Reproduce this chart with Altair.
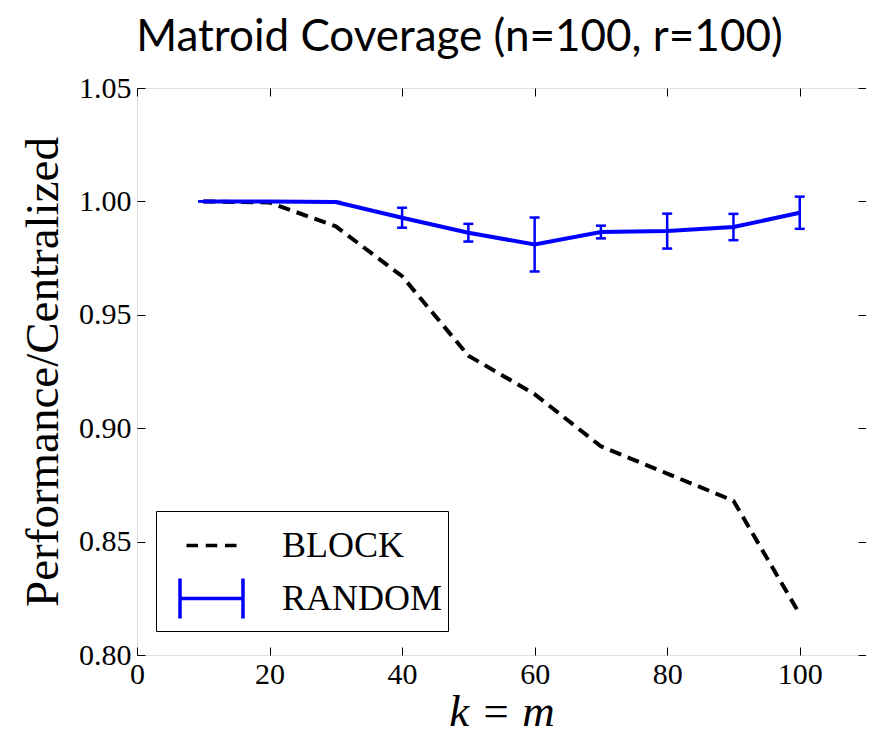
import altair as alt
import pandas as pd

# ---- data ----
k_values = [10, 20, 30, 40, 50, 60, 70, 80, 90, 100]
block_ratio = [1.000, 0.9995, 0.989, 0.967, 0.932, 0.915, 0.892, 0.880, 0.868, 0.818]
random_ratio = [1.000, 1.000, 0.9997, 0.9928, 0.9862, 0.9810, 0.9865, 0.9869, 0.9887, 0.9950]
random_err = [0.0, 0.0, 0.0, 0.0044, 0.0039, 0.0119, 0.0028, 0.0077, 0.0058, 0.0071]
x_ticks = [0, 20, 40, 60, 80, 100]
y_ticks = [0.80, 0.85, 0.90, 0.95, 1.00, 1.05]
series_names = ["Block", "Random"]
series_colors = ["black", "#0000ff"]

df = pd.DataFrame({"k": k_values, "block": block_ratio,
                   "random": random_ratio, "err": random_err})
df["lo"] = df["random"] - df["err"]
df["hi"] = df["random"] + df["err"]
legend_df = pd.DataFrame({"series": series_names})

SERIF = "Liberation Serif"
BLUE = "#0000ff"

xs = alt.Scale(domain=[0, 110], nice=False, zero=False)
ys = alt.Scale(domain=[0.80, 1.05], nice=False, zero=False)


def tick_axis(orient, values):
    return alt.Axis(orient=orient, values=values, labels=False, domain=False,
                    grid=False, ticks=True, tickSize=8, offset=-8,
                    tickColor="black", tickWidth=1, title=None)


main_x = alt.Axis(orient="bottom", values=x_ticks, format="d", grid=False,
                  domain=False, ticks=False, tickSize=0,
                  labelFont=SERIF, labelFontSize=30, labelColor="black",
                  labelPadding=4, labelFlush=False, labelOverlap=False,
                  title="k = m", titleFont=SERIF, titleFontSize=45,
                  titleFontStyle="italic", titleFontWeight="normal",
                  titleColor="black", titleY=70, titleBaseline="alphabetic")

main_y = alt.Axis(orient="left", values=y_ticks, format=".2f", grid=False,
                  domain=False, ticks=False, tickSize=0,
                  labelFont=SERIF, labelFontSize=30, labelColor="black",
                  labelPadding=6, labelOverlap=False, labelFlush=False,
                  title="Performance/Centralized", titleFont=SERIF,
                  titleFontSize=47, titleFontWeight="normal",
                  titleColor="black", titleX=-80, titleBaseline="alphabetic")

block_line = alt.Chart(df).mark_line(
    color="black", strokeWidth=4, strokeDash=[12, 7], strokeCap="butt"
).encode(
    x=alt.X("k:Q", scale=xs, axis=main_x),
    y=alt.Y("block:Q", scale=ys, axis=main_y),
)

random_line = alt.Chart(df).mark_line(color=BLUE, strokeWidth=4).encode(
    x=alt.X("k:Q", scale=xs, axis=tick_axis("bottom", x_ticks)),
    y=alt.Y("random:Q", scale=ys, axis=tick_axis("left", y_ticks)),
)

err_rule = alt.Chart(df).mark_rule(color=BLUE, strokeWidth=2.5).encode(
    x=alt.X("k:Q", scale=xs, axis=tick_axis("top", x_ticks)),
    y=alt.Y("lo:Q", scale=ys, axis=tick_axis("right", y_ticks)),
    y2="hi:Q",
)

caps_lo = alt.Chart(df).mark_tick(
    color=BLUE, orient="horizontal", size=10, thickness=2.5, opacity=1
).encode(
    x=alt.X("k:Q", scale=xs, axis=None),
    y=alt.Y("lo:Q", scale=ys, axis=None),
)

caps_hi = alt.Chart(df).mark_tick(
    color=BLUE, orient="horizontal", size=10, thickness=2.5, opacity=1
).encode(
    x=alt.X("k:Q", scale=xs, axis=None),
    y=alt.Y("hi:Q", scale=ys, axis=None),
)

block_path = "M-0.91,0H-0.49M-0.21,0H0.21M0.49,0H0.91"
random_path = "M-1.145,-0.73V0.73M-1.145,0H1.145M1.145,-0.73V0.73"

leg = alt.Legend(orient="none", legendX=19, legendY=423, title=None,
                 strokeColor="black", fillColor="white",
                 padding=5, rowPadding=5, symbolSize=3025,
                 symbolStrokeWidth=3.5, symbolOpacity=1, symbolOffset=21,
                 labelOffset=41, labelFont=SERIF, labelFontSize=36,
                 labelColor="black", labelLimit=400,
                 labelExpr="upper(datum.label)")

legend_pts = alt.Chart(legend_df).mark_point(
    filled=False, opacity=0, strokeWidth=3.5
).encode(
    shape=alt.Shape("series:N", scale=alt.Scale(domain=series_names,
                    range=[block_path, random_path]), legend=leg),
    color=alt.Color("series:N", scale=alt.Scale(domain=series_names,
                    range=series_colors), legend=leg),
)

chart = alt.layer(
    block_line, random_line, err_rule, caps_lo, caps_hi, legend_pts
).resolve_scale(
    x="shared", y="shared"
).resolve_axis(
    x="independent", y="independent"
).properties(
    width=729,
    height=567,
    autosize=alt.AutoSizeParams(type="none"),
    padding={"left": 129, "top": 80, "right": 0, "bottom": 74},
    title=alt.TitleParams("Matroid Coverage (n=100, r=100)", font="Lato",
                          fontSize=44, fontWeight="normal", color="black",
                          anchor="middle", frame="group", dx=-42, dy=-9),
).configure_view(
    stroke="black", strokeWidth=1.5
).configure(background="white")

chart.save("out.html", embed_options={"renderer": "svg", "actions": False})
